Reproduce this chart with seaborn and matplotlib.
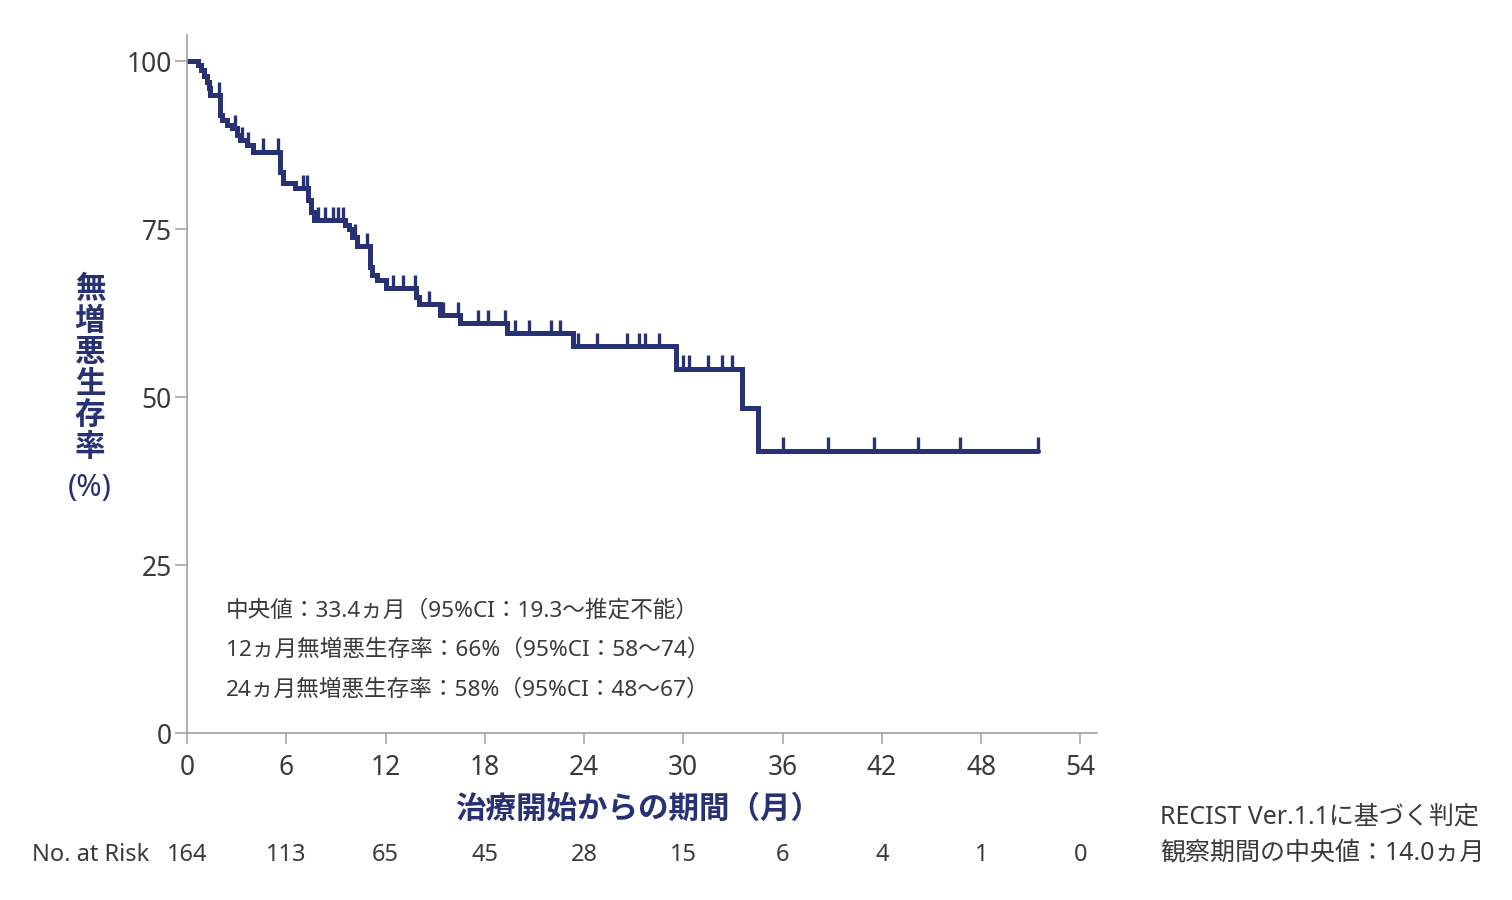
import matplotlib
matplotlib.use("Agg")
import matplotlib.pyplot as plt
from matplotlib.transforms import blended_transform_factory
import numpy as np
import pandas as pd
import seaborn as sns

# step curve: month of each event and PFS (%) after it
times = [0, 0.67, 0.85, 1.0, 1.2, 1.3, 1.4, 2.0, 2.1, 2.4, 2.7, 3.0, 3.2, 3.6, 4.0,
         5.6, 5.65, 5.8, 6.5, 7.3, 7.5, 7.7, 9.55, 9.8, 10.0, 10.3, 11.05, 11.2, 11.5,
         12.0, 13.85, 14.0, 15.3, 16.5, 19.35, 23.35, 29.55, 33.55, 34.5, 51.45]
surv = [100, 99.4, 98.7, 97.8, 96.9, 96.0, 94.9, 92.0, 91.2, 90.5, 90.0, 89.0, 88.2, 87.5, 86.5,
        85.0, 83.5, 81.8, 81.1, 79.3, 77.5, 76.3, 75.6, 75.0, 73.8, 72.5, 69.3, 68.2, 67.4,
        66.2, 64.9, 63.8, 62.2, 61.0, 59.5, 57.6, 54.2, 48.4, 42.0, 42.0]
censor_times = [1.95, 2.9, 3.3, 3.7, 4.6, 5.5, 7.0, 7.25, 7.9, 8.35, 8.8, 9.15, 9.4,
                10.15, 10.85, 12.45, 13.05, 13.8, 14.6, 15.5, 16.4, 17.6, 18.2, 19.2,
                19.8, 20.7, 22.0, 22.55, 23.65, 24.8, 26.6, 27.3, 27.7, 28.5, 30.0,
                30.35, 31.5, 32.35, 32.95, 36.0, 38.75, 41.5, 44.2, 46.75, 51.45]

xticks = [0, 6, 12, 18, 24, 30, 36, 42, 48, 54]
yticks = [0, 25, 50, 75, 100]
at_risk = [164, 113, 65, 45, 28, 15, 6, 4, 1, 0]

ylabel_chars = ["無", "増", "悪", "生", "存", "率"]
xlabel = "治療開始からの期間（月）"
notes = ["中央値：33.4ヵ月（95%CI：19.3～推定不能）",
         "12ヵ月無増悪生存率：66%（95%CI：58～74）",
         "24ヵ月無増悪生存率：58%（95%CI：48～67）"]
footnotes = ["RECIST Ver.1.1に基づく判定", "観察期間の中央値：14.0ヵ月"]

navy = "#283173"
text_grey = "#3a3a3a"
axis_grey = "#a0a0a0"

sns.set_theme(style="white")
plt.rcParams["font.family"] = ["Noto Sans", "Noto Sans CJK JP", "DejaVu Sans"]

W, H = 1512, 900
fig = plt.figure(figsize=(W / 100, H / 100), dpi=100)
ax = fig.add_axes([187 / W, 1 - 733 / H, 910 / W, 698 / H])

df = pd.DataFrame({"month": times, "pfs": surv})
sns.lineplot(data=df, x="month", y="pfs", ax=ax, color=navy, lw=3.6,
             drawstyle="steps-post", estimator=None, sort=False,
             solid_joinstyle="miter")

# censor marks sit on top of the curve
idx = np.searchsorted(times, censor_times, side="right") - 1
levels = np.array(surv)[idx]
ax.vlines(censor_times, levels, levels + 2.0, color=navy, lw=2.4)

ax.set_xlim(0, 55)
ax.set_ylim(0, 103.9)
ax.set_xticks(xticks)
ax.set_yticks(yticks)
ax.set_xlabel("")
ax.set_ylabel("")
for s in ["top", "right"]:
    ax.spines[s].set_visible(False)
for s in ["left", "bottom"]:
    ax.spines[s].set_color(axis_grey)
    ax.spines[s].set_linewidth(1.2)
ax.tick_params(bottom=True, left=True, direction="out", width=1.1,
               color=axis_grey, labelcolor=text_grey, labelsize=19)
ax.tick_params(axis="x", length=8, pad=7)
ax.tick_params(axis="y", length=9, pad=2)

# y label, written vertically
for i, ch in enumerate(ylabel_chars):
    fig.text(90 / W, 1 - (290 + 31.6 * i) / H, ch, ha="center", va="center",
             fontsize=22, color=navy, fontweight="bold")
fig.text(90 / W, 1 - 488 / H, "(%)", ha="center", va="center",
         fontsize=22, color=navy)

fig.text(638 / W, 1 - 810 / H, xlabel, ha="center", va="center",
         fontsize=22, color=navy, fontweight="bold")

for i, line in enumerate(notes):
    fig.text(226 / W, 1 - (611 + 39.5 * i) / H, line, ha="left", va="center",
             fontsize=16.3, color=text_grey)

# number at risk row
fig.text(32 / W, 1 - 855 / H, "No. at Risk", ha="left", va="center",
         fontsize=17, color=text_grey)
trans = blended_transform_factory(ax.transData, fig.transFigure)
for t, n in zip(xticks, at_risk):
    ax.text(t, 1 - 855 / H, str(n), transform=trans, ha="center", va="center",
            fontsize=17, color=text_grey)

for i, line in enumerate(footnotes):
    fig.text(1160 / W, 1 - (817 + 37 * i) / H, line, ha="left", va="center",
             fontsize=18, color=text_grey)

fig.savefig("out.png", dpi=100)
